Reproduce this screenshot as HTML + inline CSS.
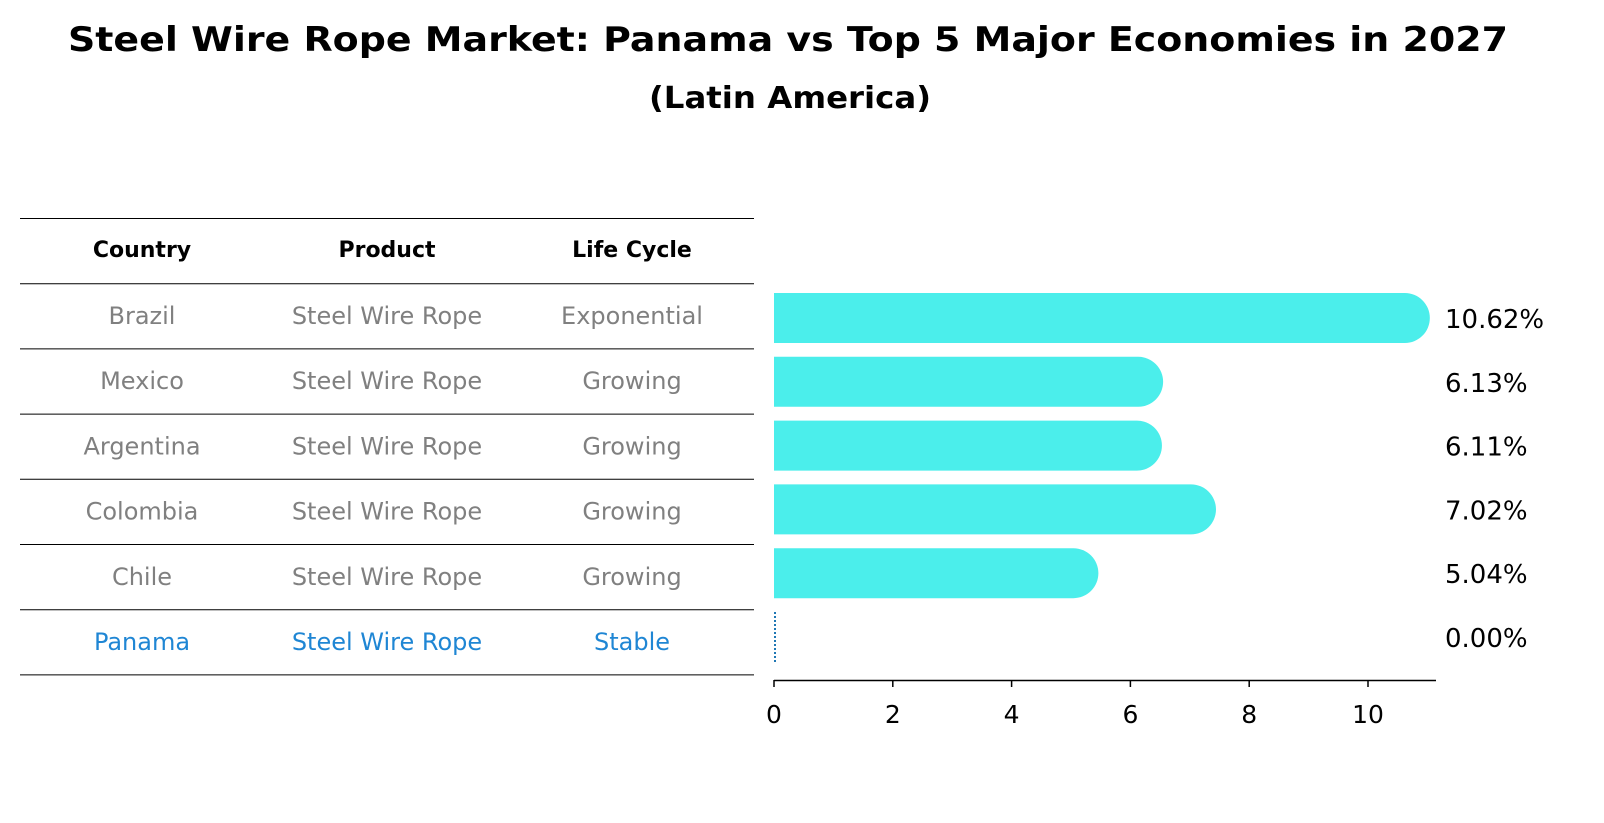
<!DOCTYPE html>
<html><head><meta charset="utf-8"><style>
body{margin:0;background:#fff;font-family:"DejaVu Sans","Liberation Sans",sans-serif;}
svg{display:block}
</style></head><body>
<svg width="1604" height="823" viewBox="0 0 1604 823">
<text x="788" y="51" text-anchor="middle" font-size="34" font-weight="bold" textLength="1440" lengthAdjust="spacingAndGlyphs">Steel Wire Rope Market: Panama vs Top 5 Major Economies in 2027</text>
<text x="790" y="108" text-anchor="middle" font-size="30" font-weight="bold" textLength="282" lengthAdjust="spacingAndGlyphs">(Latin America)</text>
<g id="table"></g>
<g id="bars"></g>
<g id="axis"></g>
</svg>
<script>
const countries=["Brazil","Mexico","Argentina","Colombia","Chile","Panama"];
const products=["Steel Wire Rope","Steel Wire Rope","Steel Wire Rope","Steel Wire Rope","Steel Wire Rope","Steel Wire Rope"];
const cycles=["Exponential","Growing","Growing","Growing","Growing","Stable"];
const values=[10.62,6.13,6.11,7.02,5.04,0.00];
const ticks=[0,2,4,6,8,10];
const NS="http://www.w3.org/2000/svg";
function mk(t,a,p){const e=document.createElementNS(NS,t);for(const k in a)e.setAttribute(k,a[k]);p.appendChild(e);return e;}
const x=v=>774+v*59.4;
const rowY=i=>316+i*65.2;
const tbl=document.getElementById('table'),bars=document.getElementById('bars'),ax=document.getElementById('axis');
const cols=[142,387,632];
["Country","Product","Life Cycle"].forEach((h,j)=>{const t=mk('text',{x:cols[j],y:257,'text-anchor':'middle','font-size':22,'font-weight':'bold'},tbl);t.textContent=h;

});
for(let k=0;k<8;k++){const l=mk('line',{x1:20,x2:754,y1:218.5+k*65.2,y2:218.5+k*65.2,stroke:'#000','stroke-width':1},tbl);

}
countries.forEach((c,i)=>{
 const col=c==="Panama"?"#1f86d4":"#808080";
 [c,products[i],cycles[i]].forEach((s,j)=>{const t=mk('text',{x:cols[j],y:rowY(i)+8,'text-anchor':'middle','font-size':24,fill:col},tbl);t.textContent=s;
 
 });
 const cy=318+i*63.8, h=50, v=values[i];
 if(v>0){
  const p=mk('path',{d:`M${x(0)},${cy-h/2} H${x(v)} A25,25 0 0 1 ${x(v)},${cy+h/2} H${x(0)} Z`,fill:'#4beeeb'},bars);
  
  
 } else {
  const p=mk('line',{x1:x(0)+1,x2:x(0)+1,y1:cy-h/2,y2:cy+h/2,stroke:'#1f77b4','stroke-width':2,'stroke-dasharray':'2,2'},bars);
  
  
 }
 const t=mk('text',{x:1445,y:cy+10,'font-size':26},bars);t.textContent=v.toFixed(2)+'%';
 
 
});
mk('line',{x1:774,x2:1436,y1:680.5,y2:680.5,stroke:'#000','stroke-width':1.5},ax);
ticks.forEach(v=>{mk('line',{x1:x(v),x2:x(v),y1:680,y2:687,stroke:'#000','stroke-width':1.5},ax);
 const t=mk('text',{x:x(v),y:723,'text-anchor':'middle','font-size':25},ax);t.textContent=v;
 
 });
</script>
</body></html>
